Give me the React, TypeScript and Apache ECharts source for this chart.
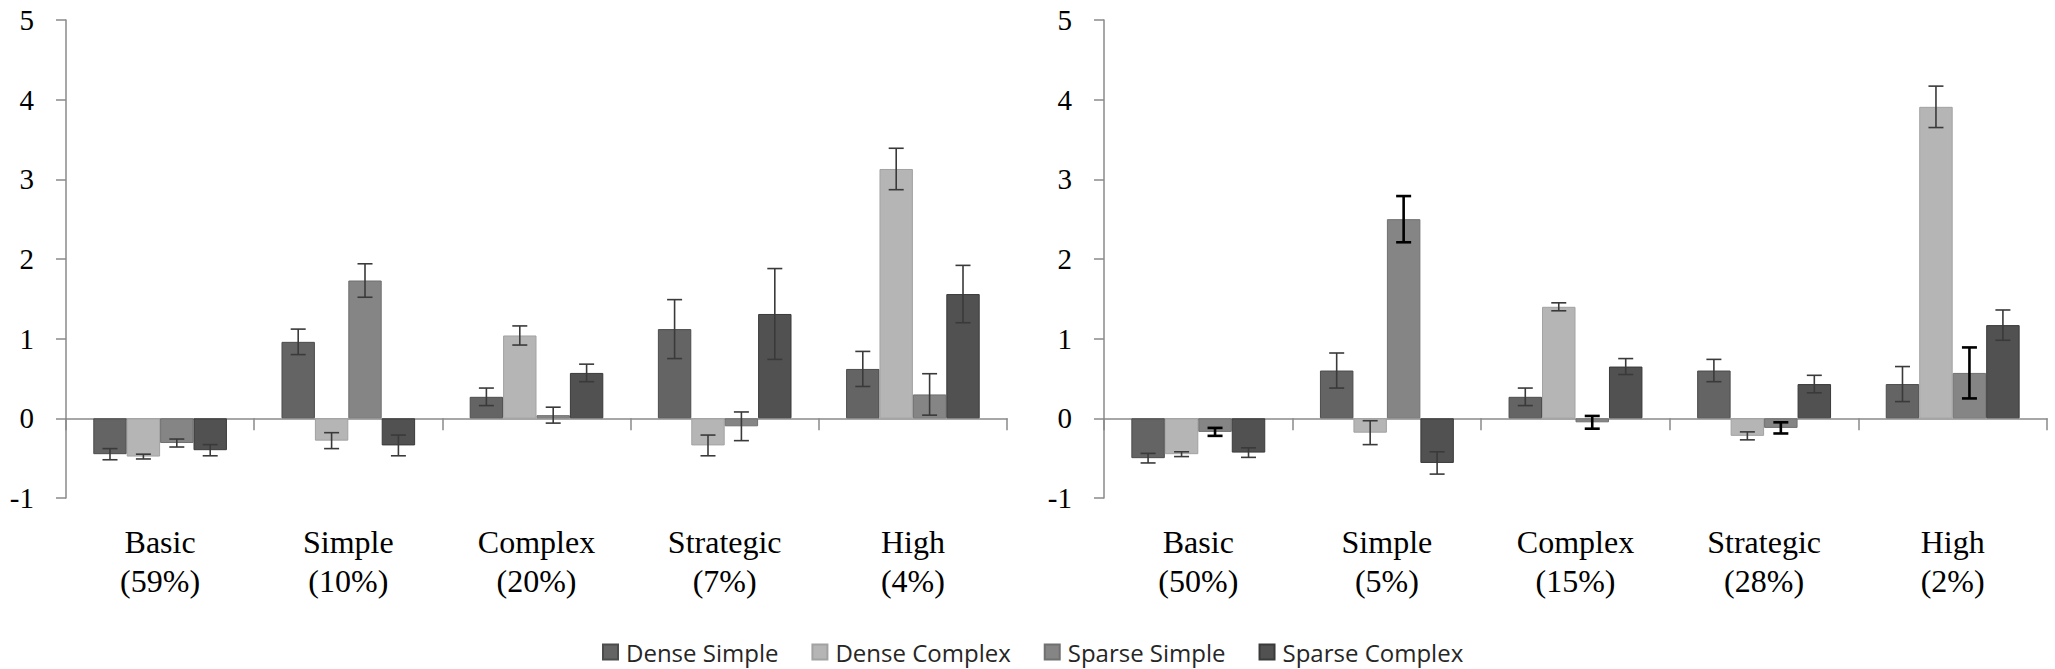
import React, { useEffect, useRef } from "react";
import * as echarts from "echarts";

const seriesNames = ["Dense Simple", "Dense Complex", "Sparse Simple", "Sparse Complex"];
const categoriesLeft = ["Basic\n(59%)", "Simple\n(10%)", "Complex\n(20%)", "Strategic\n(7%)", "High\n(4%)"];
const categoriesRight = ["Basic\n(50%)", "Simple\n(5%)", "Complex\n(15%)", "Strategic\n(28%)", "High\n(2%)"];

// Left panel values and error half-widths
const leftDenseSimple = [-0.45, 0.96, 0.27, 1.12, 0.62];
const leftDenseComplex = [-0.48, -0.28, 1.04, -0.34, 3.13];
const leftSparseSimple = [-0.31, 1.73, 0.04, -0.1, 0.3];
const leftSparseComplex = [-0.4, -0.34, 0.57, 1.31, 1.56];
const leftDenseSimpleErr = [0.07, 0.16, 0.11, 0.37, 0.22];
const leftDenseComplexErr = [0.03, 0.1, 0.12, 0.13, 0.26];
const leftSparseSimpleErr = [0.05, 0.21, 0.1, 0.18, 0.26];
const leftSparseComplexErr = [0.07, 0.13, 0.11, 0.57, 0.36];

// Right panel values and error half-widths
const rightDenseSimple = [-0.5, 0.6, 0.27, 0.6, 0.43];
const rightDenseComplex = [-0.45, -0.18, 1.4, -0.22, 3.91];
const rightSparseSimple = [-0.17, 2.5, -0.05, -0.12, 0.57];
const rightSparseComplex = [-0.43, -0.56, 0.65, 0.43, 1.17];
const rightDenseSimpleErr = [0.06, 0.22, 0.11, 0.14, 0.22];
const rightDenseComplexErr = [0.03, 0.15, 0.05, 0.05, 0.26];
const rightSparseSimpleErr = [0.05, 0.29, 0.08, 0.07, 0.32];
const rightSparseComplexErr = [0.06, 0.14, 0.1, 0.11, 0.19];

const yTicks = [-1, 0, 1, 2, 3, 4, 5];

const fills = ["#646464", "#b5b5b5", "#858585", "#515151"];
const borders = ["#4c4c4c", "#a2a2a2", "#707070", "#3a3a3a"];
const GAP = 0.29;

const SERIF = "'Liberation Serif', 'Times New Roman', serif";

export default function App() {
  const ref = useRef<HTMLDivElement>(null);

  useEffect(() => {
    if (!ref.current) return;
    const chart = echarts.init(ref.current, undefined, { renderer: "svg" });

    const panels = [
      {
        cats: categoriesLeft,
        vals: [leftDenseSimple, leftDenseComplex, leftSparseSimple, leftSparseComplex],
        errs: [leftDenseSimpleErr, leftDenseComplexErr, leftSparseSimpleErr, leftSparseComplexErr],
        dark: [false, false, false, false],
      },
      {
        cats: categoriesRight,
        vals: [rightDenseSimple, rightDenseComplex, rightSparseSimple, rightSparseComplex],
        errs: [rightDenseSimpleErr, rightDenseComplexErr, rightSparseSimpleErr, rightSparseComplexErr],
        dark: [false, false, true, false],
      },
    ];

    const grids = [
      { left: 66, top: 20, width: 941, height: 478 },
      { left: 1104, top: 20, width: 943, height: 478 },
    ];

    const xAxis: any[] = [];
    const yAxis: any[] = [];
    const series: any[] = [];

    panels.forEach((p, g) => {
      // axis line at zero with ticks
      xAxis.push({
        type: "category",
        gridIndex: g,
        data: p.cats,
        position: "bottom",
        axisLine: { show: true, onZero: true, lineStyle: { color: "#8a8a8a", width: 1.5 } },
        axisTick: { show: true, length: 12, lineStyle: { color: "#8a8a8a", width: 1.5 } },
        axisLabel: { show: false },
        splitLine: { show: false },
      });
      // labels at bottom
      xAxis.push({
        type: "category",
        gridIndex: g,
        data: p.cats,
        position: "bottom",
        axisLine: { show: false, onZero: false },
        axisTick: { show: false },
        axisLabel: {
          show: true,
          margin: 24,
          fontFamily: SERIF,
          fontSize: 32,
          lineHeight: 39,
          color: "#000",
          interval: 0,
        },
        splitLine: { show: false },
      });
      yAxis.push({
        type: "value",
        gridIndex: g,
        min: yTicks[0],
        max: yTicks[yTicks.length - 1],
        interval: 1,
        axisLine: { show: true, lineStyle: { color: "#8a8a8a", width: 1.5 } },
        axisTick: { show: true, length: 10, lineStyle: { color: "#8a8a8a", width: 1.5 } },
        axisLabel: { fontFamily: SERIF, fontSize: 29, color: "#000", margin: 32 },
        splitLine: { show: false },
      });

      p.vals.forEach((vals, k) => {
        series.push({
          name: seriesNames[k],
          type: "bar",
          xAxisIndex: g * 2,
          yAxisIndex: g,
          data: vals,
          barGap: "0%",
          barCategoryGap: GAP * 100 + "%",
          itemStyle: { color: fills[k], borderColor: borders[k], borderWidth: 1 },
          z: 2,
        });
      });

      p.vals.forEach((vals, k) => {
        const errs = p.errs[k];
        const dark = p.dark[k];
        series.push({
          name: "err-" + g + "-" + k,
          type: "custom",
          xAxisIndex: g * 2,
          yAxisIndex: g,
          z: 5,
          data: vals.map((v, i) => [i, v - errs[i], v + errs[i]]),
          encode: { x: 0, y: [1, 2] },
          renderItem: (params: any, api: any) => {
            const cat = api.value(0);
            const lo = api.value(1);
            const hi = api.value(2);
            const bandW = api.size([1, 0])[0];
            const barW = (bandW * (1 - GAP)) / 4;
            const off = (k - 1.5) * barW;
            const pLo = api.coord([cat, lo]);
            const pHi = api.coord([cat, hi]);
            const x = pLo[0] + off;
            const cap = 7.5;
            const style = { stroke: dark ? "#000" : "#3a3a3a", lineWidth: dark ? 2.6 : 1.6 };
            return {
              type: "group",
              children: [
                { type: "line", shape: { x1: x, y1: pLo[1], x2: x, y2: pHi[1] }, style },
                { type: "line", shape: { x1: x - cap, y1: pLo[1], x2: x + cap, y2: pLo[1] }, style },
                { type: "line", shape: { x1: x - cap, y1: pHi[1], x2: x + cap, y2: pHi[1] }, style },
              ],
            };
          },
        });
      });
    });

    chart.setOption({
      animation: false,
      backgroundColor: "#ffffff",
      grid: grids,
      xAxis,
      yAxis,
      legend: {
        data: seriesNames,
        left: 597,
        top: 635,
        icon: "rect",
        itemWidth: 15,
        itemHeight: 15,
        itemGap: 33,
        textStyle: {
          fontFamily: "'Open Sans', sans-serif",
          fontSize: 24,
          color: "#262626",
          padding: [0, 0, 0, 3],
        },
        selectedMode: false,
      },
      series,
    });

    return () => chart.dispose();
  }, []);

  return (
    <div
      ref={ref}
      style={{ position: "fixed", left: 0, top: 0, width: 2055, height: 669, background: "#fff" }}
    />
  );
}
